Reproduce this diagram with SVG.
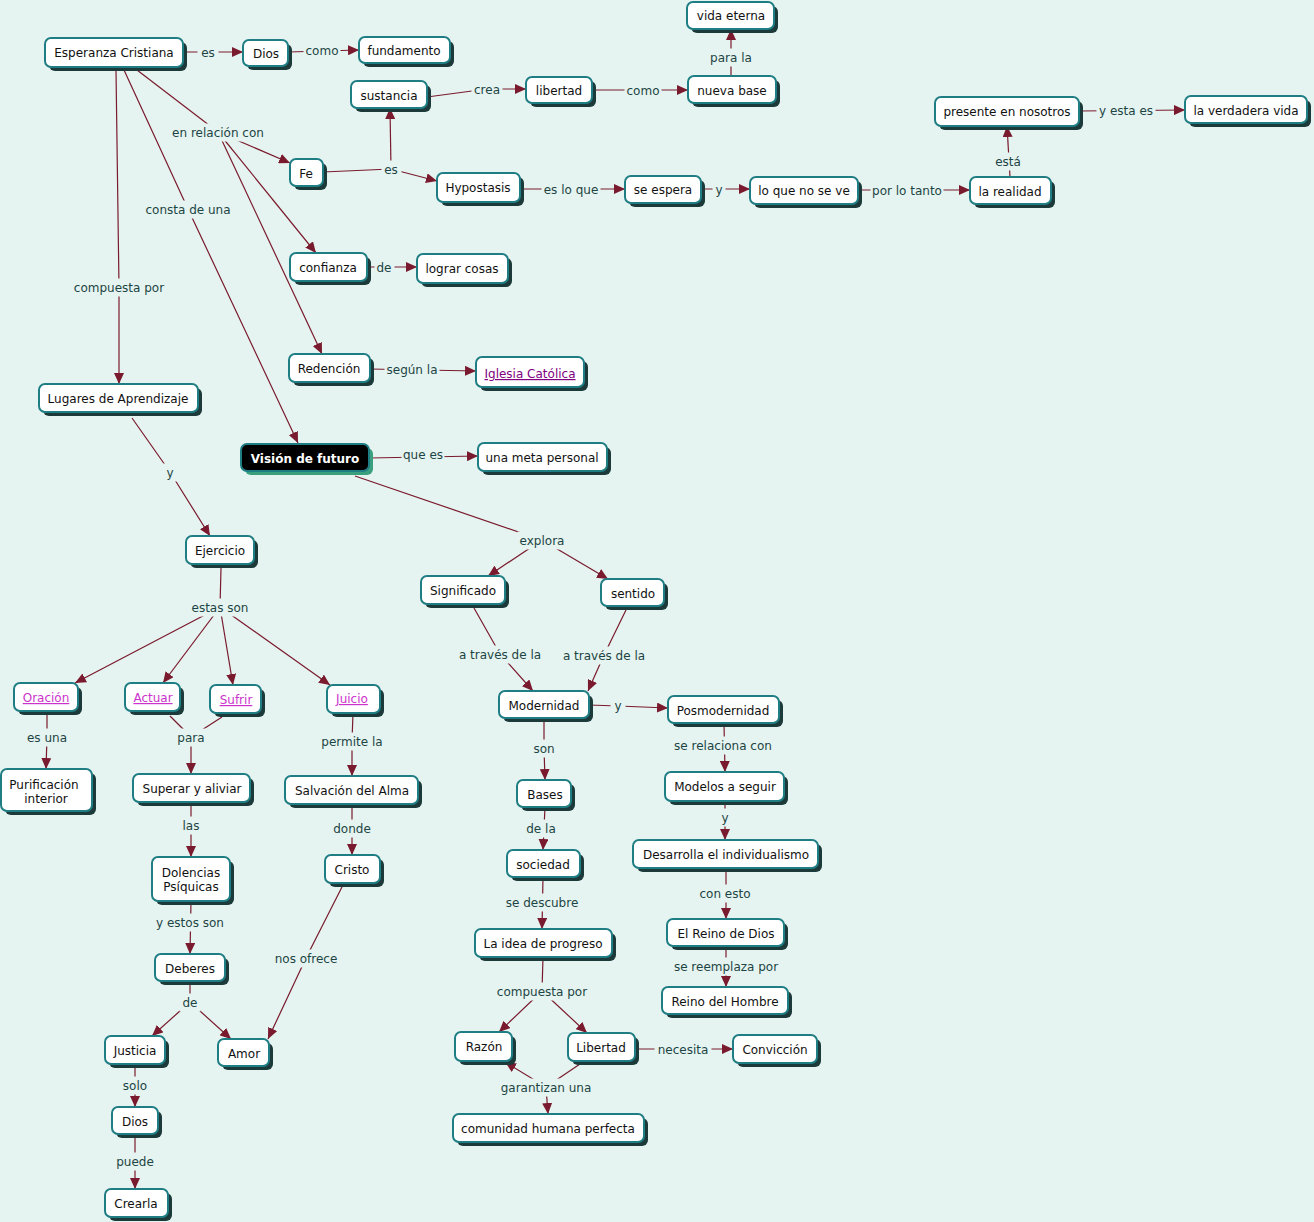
<svg xmlns="http://www.w3.org/2000/svg" width="1314" height="1222" viewBox="0 0 1314 1222">
<defs>
<marker id="ah" markerUnits="userSpaceOnUse" markerWidth="11" markerHeight="10" refX="11" refY="5" orient="auto"><path d="M0,0 L11,5 L0,10 z" fill="#7a1a2e"/></marker>
<style>
.bg{fill:#e5f4f0}
.sh{fill:#1d3a3a}
.bx{fill:#fff;stroke:#1f7d84;stroke-width:2}
.t{font-family:"DejaVu Sans",sans-serif;font-size:12px;fill:#111;text-anchor:middle;transform:translate(0px,1px)}
.lk{fill:#cc33cc;text-decoration:underline}
.lk2{fill:#800080;text-decoration:underline}
.c path{fill:none;stroke:#7a1a2e;stroke-width:1.2}
.c path.a{marker-end:url(#ah)}
.lr{fill:#e5f4f0;stroke:#e5f4f0;stroke-width:3}
.lt{font-family:"DejaVu Sans",sans-serif;font-size:12px;fill:#1d4444;text-anchor:middle;transform:translate(0px,1px)}
</style>
</defs>
<rect class="bg" x="0" y="0" width="1314" height="1222"/>
<g class="c" id="connectors">
<path class="a" d="M183,52 H243"/>
<path class="a" d="M288,52 L359,50"/>
<path class="a" d="M427,97 L487,89 L526,89"/>
<path class="a" d="M592,90 H688"/>
<path class="a" d="M731,76 V29"/>
<path class="a" d="M1079,111 L1185,110"/>
<path d="M137,70 L218,132"/>
<path class="a" d="M218,132 L290,163"/>
<path class="a" d="M218,132 L316,253"/>
<path class="a" d="M218,132 L322,354"/>
<path d="M323,172 L391,169"/>
<path class="a" d="M391,169 L390,108"/>
<path class="a" d="M391,169 L437,181"/>
<path class="a" d="M520,189 H625"/>
<path class="a" d="M701,189 H750"/>
<path class="a" d="M858,190 H970"/>
<path class="a" d="M1010,177 L1007,126"/>
<path class="a" d="M367,267 H417"/>
<path class="a" d="M370,369 L476,371"/>
<path class="a" d="M124,70 L188,209 L298,443"/>
<path class="a" d="M116,70 L119,287 L119,384"/>
<path class="a" d="M369,458 L478,456"/>
<path d="M355,476 L542,540"/>
<path class="a" d="M542,540 L488,576"/>
<path class="a" d="M542,540 L608,579"/>
<path class="a" d="M132,418 L170,472 L210,536"/>
<path d="M221,568 L220,607"/>
<path class="a" d="M220,607 L75,683"/>
<path class="a" d="M220,607 L163,683"/>
<path class="a" d="M220,607 L233,685"/>
<path class="a" d="M220,607 L330,685"/>
<path class="a" d="M47,711 L47,737 L46,769"/>
<path d="M170,716 L191,737"/>
<path d="M222,717 L191,737"/>
<path class="a" d="M191,737 L191,774"/>
<path class="a" d="M353,713 L352,741 L352,776"/>
<path class="a" d="M191,802 V857"/>
<path class="a" d="M352,804 V855"/>
<path class="a" d="M191,901 L190,954"/>
<path class="a" d="M344,883 L306,958 L268,1039"/>
<path d="M190,981 L190,1002"/>
<path class="a" d="M190,1002 L152,1036"/>
<path class="a" d="M190,1002 L231,1039"/>
<path class="a" d="M135,1064 L135,1107"/>
<path class="a" d="M135,1134 V1189"/>
<path class="a" d="M474,608 L500,654 L533,691"/>
<path class="a" d="M626,610 L604,655 L588,691"/>
<path class="a" d="M589,705 L618,706 L668,708"/>
<path class="a" d="M544,718 L544,748 L545,780"/>
<path class="a" d="M545,807 L543,850"/>
<path class="a" d="M543,877 L542,929"/>
<path d="M543,957 L542,991"/>
<path class="a" d="M542,991 L499,1032"/>
<path class="a" d="M542,991 L587,1033"/>
<path class="a" d="M635,1049 H733"/>
<path d="M580,1064 L546,1087"/>
<path class="a" d="M546,1087 L505,1062"/>
<path class="a" d="M546,1087 L548,1114"/>
<path class="a" d="M724,723 L725,772"/>
<path class="a" d="M725,801 L725,840"/>
<path class="a" d="M726,868 L726,919"/>
<path class="a" d="M726,946 L726,987"/>
</g>
<g id="labels">
<rect class="lr" x="199" y="45" width="18" height="15"/><text class="lt" x="208" y="56">es</text>
<rect class="lr" x="305" y="43" width="34" height="15"/><text class="lt" x="322" y="54">como</text>
<rect class="lr" x="473" y="82" width="28" height="15"/><text class="lt" x="487" y="93">crea</text>
<rect class="lr" x="626" y="83" width="34" height="15"/><text class="lt" x="643" y="94">como</text>
<rect class="lr" x="709" y="50" width="44" height="15"/><text class="lt" x="731" y="61">para la</text>
<rect class="lr" x="1098" y="103" width="56" height="15"/><text class="lt" x="1126" y="114">y esta es</text>
<rect class="lr" x="172" y="125" width="92" height="15"/><text class="lt" x="218" y="136">en relación con</text>
<rect class="lr" x="383" y="162" width="17" height="15"/><text class="lt" x="391" y="173">es</text>
<rect class="lr" x="543" y="182" width="56" height="15"/><text class="lt" x="571" y="193">es lo que</text>
<rect class="lr" x="714" y="182" width="10" height="15"/><text class="lt" x="719" y="193">y</text>
<rect class="lr" x="872" y="183" width="70" height="15"/><text class="lt" x="907" y="194">por lo tanto</text>
<rect class="lr" x="993" y="154" width="30" height="15"/><text class="lt" x="1008" y="165">está</text>
<rect class="lr" x="376" y="260" width="17" height="15"/><text class="lt" x="384" y="271">de</text>
<rect class="lr" x="386" y="362" width="52" height="15"/><text class="lt" x="412" y="373">según la</text>
<rect class="lr" x="146" y="202" width="84" height="15"/><text class="lt" x="188" y="213">consta de una</text>
<rect class="lr" x="74" y="280" width="90" height="15"/><text class="lt" x="119" y="291">compuesta por</text>
<rect class="lr" x="403" y="447" width="40" height="15"/><text class="lt" x="423" y="458">que es</text>
<rect class="lr" x="519" y="533" width="46" height="15"/><text class="lt" x="542" y="544">explora</text>
<rect class="lr" x="164" y="465" width="12" height="15"/><text class="lt" x="170" y="476">y</text>
<rect class="lr" x="191" y="600" width="58" height="15"/><text class="lt" x="220" y="611">estas son</text>
<rect class="lr" x="26" y="730" width="42" height="15"/><text class="lt" x="47" y="741">es una</text>
<rect class="lr" x="176" y="730" width="30" height="15"/><text class="lt" x="191" y="741">para</text>
<rect class="lr" x="321" y="734" width="62" height="15"/><text class="lt" x="352" y="745">permite la</text>
<rect class="lr" x="181" y="818" width="20" height="15"/><text class="lt" x="191" y="829">las</text>
<rect class="lr" x="332" y="821" width="40" height="15"/><text class="lt" x="352" y="832">donde</text>
<rect class="lr" x="156" y="915" width="68" height="15"/><text class="lt" x="190" y="926">y estos son</text>
<rect class="lr" x="274" y="951" width="64" height="15"/><text class="lt" x="306" y="962">nos ofrece</text>
<rect class="lr" x="181" y="995" width="18" height="15"/><text class="lt" x="190" y="1006">de</text>
<rect class="lr" x="122" y="1078" width="26" height="15"/><text class="lt" x="135" y="1089">solo</text>
<rect class="lr" x="115" y="1154" width="40" height="15"/><text class="lt" x="135" y="1165">puede</text>
<rect class="lr" x="458" y="647" width="84" height="15"/><text class="lt" x="500" y="658">a través de la</text>
<rect class="lr" x="562" y="648" width="84" height="15"/><text class="lt" x="604" y="659">a través de la</text>
<rect class="lr" x="612" y="698" width="12" height="15"/><text class="lt" x="618" y="709">y</text>
<rect class="lr" x="533" y="741" width="22" height="15"/><text class="lt" x="544" y="752">son</text>
<rect class="lr" x="525" y="821" width="32" height="15"/><text class="lt" x="541" y="832">de la</text>
<rect class="lr" x="506" y="895" width="72" height="15"/><text class="lt" x="542" y="906">se descubre</text>
<rect class="lr" x="497" y="984" width="90" height="15"/><text class="lt" x="542" y="995">compuesta por</text>
<rect class="lr" x="656" y="1042" width="54" height="15"/><text class="lt" x="683" y="1053">necesita</text>
<rect class="lr" x="500" y="1080" width="92" height="15"/><text class="lt" x="546" y="1091">garantizan una</text>
<rect class="lr" x="673" y="738" width="100" height="15"/><text class="lt" x="723" y="749">se relaciona con</text>
<rect class="lr" x="719" y="810" width="12" height="15"/><text class="lt" x="725" y="821">y</text>
<rect class="lr" x="698" y="886" width="54" height="15"/><text class="lt" x="725" y="897">con esto</text>
<rect class="lr" x="673" y="959" width="106" height="15"/><text class="lt" x="726" y="970">se reemplaza por</text>
</g>
<g id="n1"><rect class="sh" x="49" y="42" width="138" height="29" rx="6"/><rect class="bx" x="45" y="38" width="138" height="29" rx="6"/><text class="t" x="114" y="56">Esperanza Cristiana</text></g>
<g id="n2"><rect class="sh" x="247" y="44" width="45" height="26" rx="6"/><rect class="bx" x="243" y="40" width="45" height="26" rx="6"/><text class="t" x="266" y="57">Dios</text></g>
<g id="n3"><rect class="sh" x="363" y="41" width="91" height="26" rx="6"/><rect class="bx" x="359" y="37" width="91" height="26" rx="6"/><text class="t" x="404" y="54">fundamento</text></g>
<g id="n4"><rect class="sh" x="691" y="6" width="87" height="27" rx="6"/><rect class="bx" x="687" y="2" width="87" height="27" rx="6"/><text class="t" x="731" y="19">vida eterna</text></g>
<g id="n5"><rect class="sh" x="355" y="85" width="76" height="27" rx="6"/><rect class="bx" x="351" y="81" width="76" height="27" rx="6"/><text class="t" x="389" y="99">sustancia</text></g>
<g id="n6"><rect class="sh" x="530" y="81" width="66" height="26" rx="6"/><rect class="bx" x="526" y="77" width="66" height="26" rx="6"/><text class="t" x="559" y="94">libertad</text></g>
<g id="n7"><rect class="sh" x="692" y="80" width="88" height="27" rx="6"/><rect class="bx" x="688" y="76" width="88" height="27" rx="6"/><text class="t" x="732" y="94">nueva base</text></g>
<g id="n8"><rect class="sh" x="939" y="101" width="144" height="29" rx="6"/><rect class="bx" x="935" y="97" width="144" height="29" rx="6"/><text class="t" x="1007" y="115">presente en nosotros</text></g>
<g id="n9"><rect class="sh" x="1189" y="100" width="122" height="27" rx="6"/><rect class="bx" x="1185" y="96" width="122" height="27" rx="6"/><text class="t" x="1246" y="114">la verdadera vida</text></g>
<g id="n10"><rect class="sh" x="294" y="163" width="33" height="27" rx="6"/><rect class="bx" x="290" y="159" width="33" height="27" rx="6"/><text class="t" x="306" y="177">Fe</text></g>
<g id="n11"><rect class="sh" x="441" y="177" width="83" height="29" rx="6"/><rect class="bx" x="437" y="173" width="83" height="29" rx="6"/><text class="t" x="478" y="191">Hypostasis</text></g>
<g id="n12"><rect class="sh" x="629" y="180" width="76" height="27" rx="6"/><rect class="bx" x="625" y="176" width="76" height="27" rx="6"/><text class="t" x="663" y="193">se espera</text></g>
<g id="n13"><rect class="sh" x="754" y="181" width="108" height="27" rx="6"/><rect class="bx" x="750" y="177" width="108" height="27" rx="6"/><text class="t" x="804" y="194">lo que no se ve</text></g>
<g id="n14"><rect class="sh" x="974" y="181" width="81" height="27" rx="6"/><rect class="bx" x="970" y="177" width="81" height="27" rx="6"/><text class="t" x="1010" y="195">la realidad</text></g>
<g id="n15"><rect class="sh" x="294" y="257" width="77" height="28" rx="6"/><rect class="bx" x="290" y="253" width="77" height="28" rx="6"/><text class="t" x="328" y="271">confianza</text></g>
<g id="n16"><rect class="sh" x="421" y="258" width="91" height="29" rx="6"/><rect class="bx" x="417" y="254" width="91" height="29" rx="6"/><text class="t" x="462" y="272">lograr cosas</text></g>
<g id="n17"><rect class="sh" x="293" y="358" width="81" height="28" rx="6"/><rect class="bx" x="289" y="354" width="81" height="28" rx="6"/><text class="t" x="329" y="372">Redención</text></g>
<g id="n18"><rect class="sh" x="480" y="361" width="108" height="30" rx="6"/><rect class="bx" x="476" y="357" width="108" height="30" rx="6"/><text class="t lk2" x="530" y="377">Iglesia Católica</text></g>
<g id="n19"><rect class="sh" x="43" y="388" width="159" height="28" rx="6"/><rect class="bx" x="39" y="384" width="159" height="28" rx="6"/><text class="t" x="118" y="402">Lugares de Aprendizaje</text></g>
<g id="n20"><rect x="245" y="448" width="128" height="27" rx="6" fill="#3a9f7c"/><rect x="241" y="444" width="128" height="27" rx="6" fill="#000" stroke="#1f7d84" stroke-width="2"/><text class="t" x="305" y="462" style="fill:#fff;font-weight:bold">Visión de futuro</text></g>
<g id="n21"><rect class="sh" x="482" y="447" width="129" height="28" rx="6"/><rect class="bx" x="478" y="443" width="129" height="28" rx="6"/><text class="t" x="542" y="461">una meta personal</text></g>
<g id="n22"><rect class="sh" x="190" y="540" width="68" height="28" rx="6"/><rect class="bx" x="186" y="536" width="68" height="28" rx="6"/><text class="t" x="220" y="554">Ejercicio</text></g>
<g id="n23"><rect class="sh" x="425" y="580" width="84" height="28" rx="6"/><rect class="bx" x="421" y="576" width="84" height="28" rx="6"/><text class="t" x="463" y="594">Significado</text></g>
<g id="n24"><rect class="sh" x="605" y="583" width="63" height="27" rx="6"/><rect class="bx" x="601" y="579" width="63" height="27" rx="6"/><text class="t" x="633" y="597">sentido</text></g>
<g id="n25"><rect class="sh" x="18" y="687" width="64" height="28" rx="6"/><rect class="bx" x="14" y="683" width="64" height="28" rx="6"/><text class="t lk" x="46" y="701">Oración</text></g>
<g id="n26"><rect class="sh" x="129" y="687" width="55" height="28" rx="6"/><rect class="bx" x="125" y="683" width="55" height="28" rx="6"/><text class="t lk" x="153" y="701">Actuar</text></g>
<g id="n27"><rect class="sh" x="214" y="689" width="51" height="28" rx="6"/><rect class="bx" x="210" y="685" width="51" height="28" rx="6"/><text class="t lk" x="236" y="703">Sufrir</text></g>
<g id="n28"><rect class="sh" x="331" y="689" width="53" height="28" rx="6"/><rect class="bx" x="327" y="685" width="53" height="28" rx="6"/><text class="t lk" x="352" y="702">Juicio</text></g>
<g id="n29"><rect class="sh" x="5" y="773" width="91" height="42" rx="6"/><rect class="bx" x="1" y="769" width="91" height="42" rx="6"/><text class="t" x="44" y="788">Purificación</text><text class="t" x="46" y="802">interior</text></g>
<g id="n30"><rect class="sh" x="137" y="778" width="117" height="28" rx="6"/><rect class="bx" x="133" y="774" width="117" height="28" rx="6"/><text class="t" x="192" y="792">Superar y aliviar</text></g>
<g id="n31"><rect class="sh" x="289" y="780" width="133" height="28" rx="6"/><rect class="bx" x="285" y="776" width="133" height="28" rx="6"/><text class="t" x="352" y="794">Salvación del Alma</text></g>
<g id="n32"><rect class="sh" x="503" y="695" width="90" height="27" rx="6"/><rect class="bx" x="499" y="691" width="90" height="27" rx="6"/><text class="t" x="544" y="709">Modernidad</text></g>
<g id="n33"><rect class="sh" x="672" y="700" width="111" height="27" rx="6"/><rect class="bx" x="668" y="696" width="111" height="27" rx="6"/><text class="t" x="723" y="714">Posmodernidad</text></g>
<g id="n34"><rect class="sh" x="521" y="784" width="54" height="27" rx="6"/><rect class="bx" x="517" y="780" width="54" height="27" rx="6"/><text class="t" x="545" y="798">Bases</text></g>
<g id="n35"><rect class="sh" x="669" y="776" width="119" height="29" rx="6"/><rect class="bx" x="665" y="772" width="119" height="29" rx="6"/><text class="t" x="725" y="790">Modelos a seguir</text></g>
<g id="n36"><rect class="sh" x="637" y="844" width="185" height="28" rx="6"/><rect class="bx" x="633" y="840" width="185" height="28" rx="6"/><text class="t" x="726" y="858">Desarrolla el individualismo</text></g>
<g id="n37"><rect class="sh" x="511" y="854" width="73" height="27" rx="6"/><rect class="bx" x="507" y="850" width="73" height="27" rx="6"/><text class="t" x="543" y="868">sociedad</text></g>
<g id="n38"><rect class="sh" x="329" y="859" width="55" height="28" rx="6"/><rect class="bx" x="325" y="855" width="55" height="28" rx="6"/><text class="t" x="352" y="873">Cristo</text></g>
<g id="n39"><rect class="sh" x="156" y="861" width="78" height="44" rx="6"/><rect class="bx" x="152" y="857" width="78" height="44" rx="6"/><text class="t" x="191" y="876">Dolencias</text><text class="t" x="191" y="890">Psíquicas</text></g>
<g id="n40"><rect class="sh" x="479" y="933" width="137" height="28" rx="6"/><rect class="bx" x="475" y="929" width="137" height="28" rx="6"/><text class="t" x="543" y="947">La idea de progreso</text></g>
<g id="n41"><rect class="sh" x="671" y="923" width="117" height="27" rx="6"/><rect class="bx" x="667" y="919" width="117" height="27" rx="6"/><text class="t" x="726" y="937">El Reino de Dios</text></g>
<g id="n42"><rect class="sh" x="666" y="991" width="126" height="27" rx="6"/><rect class="bx" x="662" y="987" width="126" height="27" rx="6"/><text class="t" x="725" y="1005">Reino del Hombre</text></g>
<g id="n43"><rect class="sh" x="159" y="958" width="70" height="27" rx="6"/><rect class="bx" x="155" y="954" width="70" height="27" rx="6"/><text class="t" x="190" y="972">Deberes</text></g>
<g id="n44"><rect class="sh" x="109" y="1040" width="60" height="28" rx="6"/><rect class="bx" x="105" y="1036" width="60" height="28" rx="6"/><text class="t" x="135" y="1054">Justicia</text></g>
<g id="n45"><rect class="sh" x="222" y="1043" width="51" height="27" rx="6"/><rect class="bx" x="218" y="1039" width="51" height="27" rx="6"/><text class="t" x="244" y="1057">Amor</text></g>
<g id="n46"><rect class="sh" x="459" y="1036" width="57" height="29" rx="6"/><rect class="bx" x="455" y="1032" width="57" height="29" rx="6"/><text class="t" x="484" y="1050">Razón</text></g>
<g id="n47"><rect class="sh" x="572" y="1037" width="67" height="28" rx="6"/><rect class="bx" x="568" y="1033" width="67" height="28" rx="6"/><text class="t" x="601" y="1051">Libertad</text></g>
<g id="n48"><rect class="sh" x="737" y="1039" width="84" height="28" rx="6"/><rect class="bx" x="733" y="1035" width="84" height="28" rx="6"/><text class="t" x="775" y="1053">Convicción</text></g>
<g id="n49"><rect class="sh" x="457" y="1118" width="191" height="28" rx="6"/><rect class="bx" x="453" y="1114" width="191" height="28" rx="6"/><text class="t" x="548" y="1132">comunidad humana perfecta</text></g>
<g id="n50"><rect class="sh" x="116" y="1111" width="46" height="27" rx="6"/><rect class="bx" x="112" y="1107" width="46" height="27" rx="6"/><text class="t" x="135" y="1125">Dios</text></g>
<g id="n51"><rect class="sh" x="109" y="1193" width="63" height="28" rx="6"/><rect class="bx" x="105" y="1189" width="63" height="28" rx="6"/><text class="t" x="136" y="1207">Crearla</text></g>
</svg>
